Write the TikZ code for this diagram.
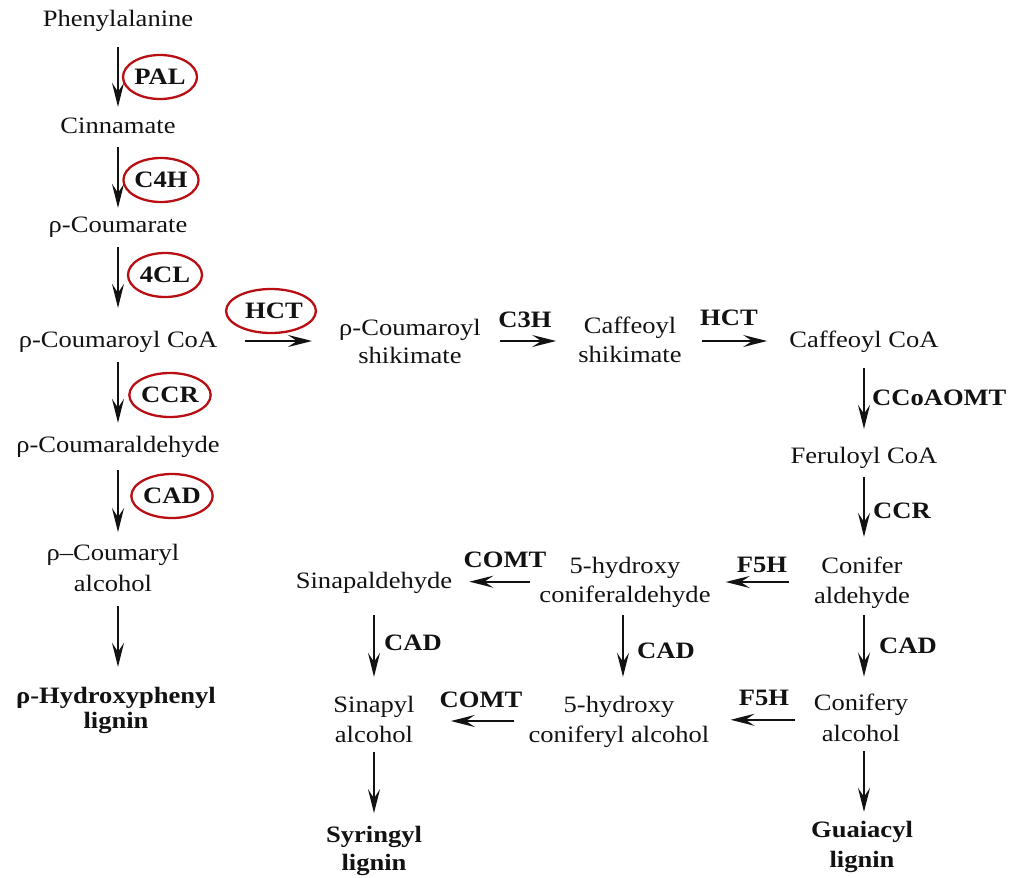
\documentclass[tikz,border=0pt]{standalone}
\usepackage{fontspec}
\setmainfont{Liberation Serif}[FakeStretch=1.13]
\usetikzlibrary{arrows.meta,shapes.geometric}
\definecolor{ringred}{RGB}{185,15,20}
\definecolor{ink}{RGB}{18,18,18}
\newcommand\tl[2]{\strut #1\\\strut #2}
\begin{document}
\begin{tikzpicture}[x=1pt,y=-1pt,
  >={Stealth[length=24pt,width=12pt,inset=9pt]},
  txt/.style={font=\fontsize{23.5}{29}\selectfont, text=ink, inner sep=0pt, text height=17pt, text depth=5pt, anchor=base},
  two/.style={font=\fontsize{23.5}{#1}\selectfont, text=ink, inner sep=0pt, align=center},
  twob/.style={font=\fontsize{23.5}{#1}\selectfont\bfseries, text=ink, inner sep=0pt, align=center},
  enz/.style={font=\fontsize{23.5}{29}\selectfont\bfseries, text=ink, inner sep=0pt, anchor=base},
  ring/.style={ellipse, draw=ringred, line width=2.3pt, minimum width=74pt, minimum height=44pt, inner sep=0pt,
    font=\fontsize{23.5}{29}\selectfont\bfseries, text=ink, text height=15.5pt, text depth=0pt},
  arr/.style={draw=ink, line width=1.8pt, ->}
]
\useasboundingbox (0,0) rectangle (1010,878);

% left column
\node[txt] (phe) at (118,27) {Phenylalanine};
\node[txt] (cin) at (118,133) {Cinnamate};
\node[txt] (pcou) at (118,232) {ρ-Coumarate};
\node[txt] (pcoa) at (118,347) {ρ-Coumaroyl CoA};
\node[txt] (pald) at (118,452) {ρ-Coumaraldehyde};
\node[two=31] (palc) at (113,569.3) {\tl{ρ–Coumaryl}{alcohol}};
\node[twob=25] (hlig) at (116,710.5) {\tl{ρ-Hydroxyphenyl}{lignin}};

\node[ring] (pal) at (160,77) {PAL};
\node[ring] (c4h) at (161,180) {C4H};
\node[ring] (cl4) at (165,275) {4CL};
\node[ring] (ccr1) at (170,395) {CCR};
\node[ring] (cad1) at (172,496) {CAD};
\node[ring, minimum width=75pt] (hct1) at (271,311) {\hspace*{6pt}HCT};

\draw[arr, shorten <=15pt, shorten >=9pt] (phe.south) -- (phe.south |- cin.north);
\draw[arr, shorten <=9pt, shorten >=7pt] (cin.south) -- (cin.south |- pcou.north);
\draw[arr, shorten <=10pt, shorten >=22pt] (pcou.south) -- (pcou.south |- pcoa.north);
\draw[arr, shorten <=10pt, shorten >=12pt] (pcoa.south) -- (pcoa.south |- pald.north);
\draw[arr, shorten <=13pt, shorten >=6pt] (pald.south) -- (pald.south |- palc.north);
\draw[arr, shorten <=5pt, shorten >=18.5pt] (palc.south -| pald.south) -- (pald.south |- hlig.north);

% top row
\node[two=28] (pcs) at (410,343.4) {\tl{ρ-Coumaroyl}{shikimate}};
\node[two=29] (cs) at (630,341.7) {\tl{Caffeoyl}{shikimate}};
\node[txt] (ccoa) at (864,347) {Caffeoyl CoA};
\node[enz] (c3h) at (525,327) {C3H};
\node[enz] (hct2) at (729,325) {HCT};

\draw[arr, shorten <=28pt, shorten >=27pt] (pcoa.east) -- (pcoa.east -| pcs.west);
\draw[arr, shorten <=19pt, shorten >=22pt] (pcs.east |- pcoa.east) -- (cs.west |- pcoa.east);
\draw[arr, shorten <=20pt, shorten >=22pt] (cs.east |- pcoa.east) -- (ccoa.west |- pcoa.east);

% right column
\node[txt] (fcoa) at (864,463) {Feruloyl CoA};
\node[two=30] (conald) at (862,582) {\tl{Conifer}{aldehyde}};
\node[two=31] (conalc) at (861,719.8) {\tl{Conifery}{alcohol}};
\node[twob=30] (glig) at (862,846) {\tl{Guaiacyl}{lignin}};
\node[enz, anchor=base west] (ccoaomt) at (872,405) {CCoAOMT};
\node[enz, anchor=base west] (ccr2) at (873,518) {CCR};
\node[enz, anchor=base west] (cad4) at (879,653) {CAD};

\draw[arr, shorten <=16pt, shorten >=17pt] (ccoa.south) -- (ccoa.south |- fcoa.north);
\draw[arr, shorten <=9pt, shorten >=15pt] (fcoa.south) -- (fcoa.south |- conald.north);
\draw[arr, shorten <=3pt, shorten >=12pt] (conald.south -| fcoa.south) -- (fcoa.south |- conalc.north);
\draw[arr, shorten <=0pt, shorten >=4pt] (conalc.south -| fcoa.south) -- (fcoa.south |- glig.north);

% middle
\node[two=29] (hcald) at (625,581.7) {\tl{5-hydroxy}{coniferaldehyde}};
\node[two=30] (hcalc) at (619,721) {\tl{5-hydroxy}{coniferyl alcohol}};
\node[txt] (sald) at (374,588) {Sinapaldehyde};
\node[two=30] (salc) at (374,721) {\tl{Sinapyl}{alcohol}};
\node[twob=28] (slig) at (374,850.4) {\tl{Syringyl}{lignin}};

\node[enz] (f5h1) at (762,572) {F5H};
\node[enz] (comt1) at (505,567) {COMT};
\node[enz] (f5h2) at (764,705) {F5H};
\node[enz] (comt2) at (481,707) {COMT};
\node[enz, anchor=base west] (cad2) at (384,650) {CAD};
\node[enz, anchor=base west] (cad3) at (637,658) {CAD};

\draw[arr, shorten <=25pt, shorten >=15pt] (conald.west) -- (conald.west -| hcald.east);
\draw[arr, shorten <=9pt, shorten >=17pt] (hcald.west) -- (hcald.west -| sald.east);
\draw[arr, shorten <=19pt, shorten >=21pt] (conalc.west) -- (conalc.west -| hcalc.east);
\draw[arr, shorten <=14pt, shorten >=36pt] (hcalc.west) -- (hcalc.west -| salc.east);

\draw[arr, shorten <=4pt, shorten >=14pt] ([xshift=-2pt]hcald.south) -- ([xshift=-2pt]hcald.south |- hcalc.north);
\draw[arr, shorten <=22pt, shorten >=14pt] (sald.south) -- (sald.south |- salc.north);
\draw[arr, shorten <=1pt, shorten >=9pt] (salc.south) -- (salc.south |- slig.north);
\end{tikzpicture}
\end{document}
